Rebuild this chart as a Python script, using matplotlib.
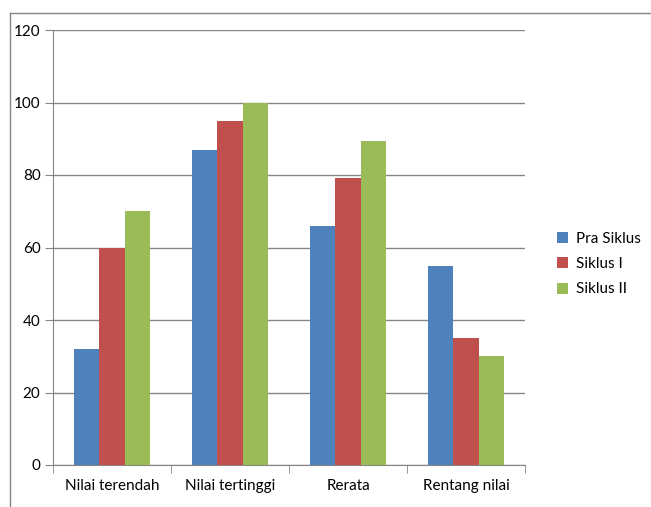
import matplotlib.pyplot as plt
import numpy as np
from matplotlib.lines import Line2D

categories = ["Nilai terendah", "Nilai tertinggi", "Rerata", "Rentang nilai"]
series_names = ["Pra Siklus", "Siklus I", "Siklus II"]
pra_siklus = [32, 87, 66, 55]
siklus_1 = [60, 95, 79.3, 35]
siklus_2 = [70, 100, 89.5, 30]
colors = ["#4F81BD", "#C0504D", "#9BBB59"]

plt.rcParams["font.family"] = ["Lato", "DejaVu Sans"]

fig = plt.figure(figsize=(6.51, 5.07), dpi=100)
ax = fig.add_axes([53 / 651, 1 - 465 / 507, 472 / 651, 435 / 507])

x = np.arange(len(categories))
width = 0.217
for i, (name, vals) in enumerate(zip(series_names, [pra_siklus, siklus_1, siklus_2])):
    ax.bar(x + (i - 1) * width, vals, width, color=colors[i], label=name, zorder=3)

ax.set_xlim(-0.5, len(categories) - 0.5)
ax.set_ylim(0, 120)
ax.set_yticks(range(0, 121, 20))
ax.yaxis.grid(True, color="#868686", linewidth=1, zorder=0)

# category labels in the middle, tick marks on the boundaries
ax.set_xticks(x)
ax.set_xticklabels(categories, fontsize=11)
ax.tick_params(axis="x", length=0, pad=10)
ax.set_xticks(np.arange(-0.5, len(categories)), minor=True)
ax.tick_params(axis="x", which="minor", length=6, color="#868686")
ax.tick_params(axis="y", length=6, color="#868686", labelsize=11, pad=3)

for s in ["top", "right"]:
    ax.spines[s].set_visible(False)
for s in ["left", "bottom"]:
    ax.spines[s].set_color("#868686")

ax.legend(loc="center left", bbox_to_anchor=(543 / 651, 1 - 264 / 507),
          bbox_transform=fig.transFigure, frameon=False, fontsize=11,
          handlelength=0.75, handleheight=0.75, handletextpad=0.5, labelspacing=0.75)

# chart area border (top and left edges visible)
fig.add_artist(Line2D([10 / 651, 1], [1 - 13 / 507] * 2, color="#868686", lw=1))
fig.add_artist(Line2D([10 / 651] * 2, [0, 1 - 13 / 507], color="#868686", lw=1))

fig.savefig("out.png", dpi=100)
